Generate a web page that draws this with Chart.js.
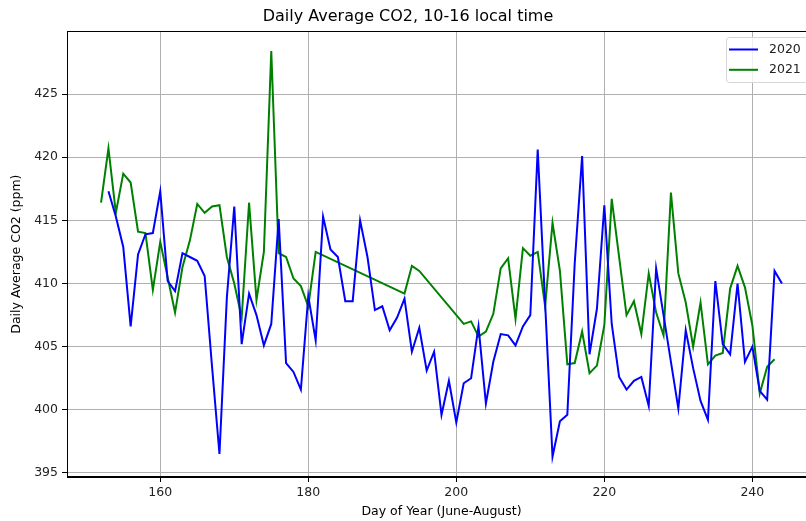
<!DOCTYPE html>
<html>
<head>
<meta charset="utf-8">
<script src="https://cdn.jsdelivr.net/npm/chart.js@4/dist/chart.umd.min.js"></script>
<style>
  html, body { margin: 0; padding: 0; background: #fff; overflow: hidden; }
  #wrap { width: 806px; height: 521px; overflow: hidden; }
  #myChart { display: block; }
</style>
</head>
<body>
<div id="wrap">
<!-- the reference figure is cut off on the right, so the canvas is wider than the window -->
<canvas id="myChart" width="818" height="521"></canvas>
</div>
<script>
// 2020 series (days 212, 228, 229 missing)
const days2020 = [
  153, 154, 155, 156, 157, 158, 159, 160, 161, 162, 163, 164, 165, 166, 167, 168, 169, 170,
  171, 172, 173, 174, 175, 176, 177, 178, 179, 180, 181, 182, 183, 184, 185, 186, 187, 188,
  189, 190, 191, 192, 193, 194, 195, 196, 197, 198, 199, 200, 201, 202, 203, 204, 205, 206,
  207, 208, 209, 210, 211, 213, 214, 215, 216, 217, 218, 219, 220, 221, 222, 223, 224, 225,
  226, 227, 230, 231, 232, 233, 234, 235, 236, 237, 238, 239, 240, 241, 242, 243, 244
];
const co2_2020 = [
  417.3, 415.3, 412.9, 406.6, 412.3, 413.9, 414.0, 417.3, 410.2, 409.4, 412.4, 412.1, 411.8, 410.6, 403.4, 396.5, 408.9, 416.1,
  405.2, 409.2, 407.5, 405.1, 406.8, 415.1, 403.7, 403.0, 401.6, 409.0, 405.5, 415.3, 412.7, 412.1, 408.6, 408.6, 415.0, 412.1,
  407.9, 408.2, 406.3, 407.3, 408.8, 404.6, 406.5, 403.1, 404.6, 399.6, 402.3, 399.0, 402.1, 402.5, 406.6, 400.5, 403.8, 406.0,
  405.9, 405.1, 406.6, 407.5, 420.6, 396.3, 399.1, 399.6, 411.6, 420.1, 404.4, 408.0, 416.2, 406.8, 402.6, 401.6, 402.3, 402.6,
  400.3, 411.2, 400.1, 406.3, 403.3, 400.7, 399.2, 410.2, 405.2, 404.4, 410.0, 403.8, 405.0, 401.5, 400.8, 411.0, 410.0
];

// 2021 series (gaps 182-192 and 196-200)
const days2021 = [
  152, 153, 154, 155, 156, 157, 158, 159, 160, 161, 162, 163, 164, 165, 166, 167, 168, 169,
  170, 171, 172, 173, 174, 175, 176, 177, 178, 179, 180, 181, 193, 194, 195, 201, 202, 203,
  204, 205, 206, 207, 208, 209, 210, 211, 212, 213, 214, 215, 216, 217, 218, 219, 220, 221,
  222, 223, 224, 225, 226, 227, 228, 229, 230, 231, 232, 233, 234, 235, 236, 237, 238, 239,
  240, 241, 242, 243
];
const co2_2021 = [
  416.4, 420.7, 415.6, 418.7, 418.0, 414.1, 414.0, 409.5, 413.3, 410.5, 407.7, 411.3, 413.4, 416.3, 415.6, 416.1, 416.2, 412.1,
  410.0, 407.3, 416.4, 408.7, 412.5, 428.4, 412.4, 412.1, 410.4, 409.8, 408.2, 412.5, 409.2, 411.4, 411.0, 406.8, 407.0, 405.8,
  406.2, 407.6, 411.2, 412.0, 407.2, 412.8, 412.2, 412.5, 408.2, 414.8, 411.0, 403.6, 403.7, 406.2, 402.9, 403.5, 406.7, 416.7,
  412.1, 407.5, 408.6, 406.0, 410.8, 407.7, 405.9, 417.2, 410.8, 408.5, 405.0, 408.5, 403.6, 404.3, 404.5, 409.6, 411.4, 409.7,
  406.7, 401.3, 403.4, 404.0
];

const xTicks = [160, 180, 200, 220, 240];
const yTicks = [395, 400, 405, 410, 415, 420, 425];

const seriesNames = ['2020', '2021'];
const seriesColors = ['#0000ff', '#008000'];

const toPoints = (xs, ys) => xs.map((x, i) => ({x: x, y: ys[i]}));

const FONT = "'DejaVu Sans', sans-serif";

// four-sided frame plus matplotlib style legend inside the axes
const framePlugin = {
  id: 'frame',
  afterDraw(chart) {
    const {ctx, chartArea: a} = chart;
    ctx.save();
    ctx.strokeStyle = '#000';
    ctx.lineWidth = 1;
    ctx.strokeRect(Math.round(a.left) + 0.5, Math.round(a.top) + 0.5,
      Math.round(a.right - a.left) - 1, Math.round(a.bottom - a.top) - 1);

    // legend box
    const bx = Math.round(a.right) - 90, by = Math.round(a.top) + 6, bw = 82, bh = 45;
    ctx.beginPath();
    ctx.roundRect(bx + 0.5, by + 0.5, bw, bh, 3);
    ctx.fillStyle = 'rgba(255,255,255,0.8)';
    ctx.fill();
    ctx.strokeStyle = '#d6d6d6';
    ctx.lineWidth = 1;
    ctx.stroke();
    ctx.font = '12.5px ' + FONT;
    ctx.textBaseline = 'middle';
    ctx.textAlign = 'left';
    chart.data.datasets.forEach((ds, i) => {
      const ly = by + 12.5 + i * 20.3;
      ctx.beginPath();
      ctx.moveTo(bx + 3, ly);
      ctx.lineTo(bx + 32, ly);
      ctx.strokeStyle = ds.borderColor;
      ctx.lineWidth = 2;
      ctx.stroke();
      ctx.fillStyle = '#222';
      ctx.fillText(ds.label, bx + 43, ly);
    });
    ctx.restore();
  }
};

const ctx = document.getElementById('myChart').getContext('2d');

const data = {
  datasets: [
    {
      label: seriesNames[0],
      borderColor: seriesColors[0],
      backgroundColor: seriesColors[0],
      borderWidth: 2,
      pointRadius: 0,
      tension: 0,
      data: toPoints(days2020, co2_2020)
    },
    {
      label: seriesNames[1],
      borderColor: seriesColors[1],
      backgroundColor: seriesColors[1],
      borderWidth: 2,
      pointRadius: 0,
      tension: 0,
      data: toPoints(days2021, co2_2021)
    }
  ]
};

const config = {
  type: 'line',
  data: data,
  options: {
    responsive: false,
    animation: false,
    devicePixelRatio: 1,
    layout: {
      padding: {left: 0, right: 2, top: 0, bottom: 0}
    },
    plugins: {
      legend: {display: false},
      tooltip: {enabled: false},
      title: {
        display: true,
        text: 'Daily Average CO2, 10-16 local time',
        color: '#000',
        font: {family: FONT, size: 16, weight: 'normal'},
        padding: {top: 7, bottom: 5}
      }
    },
    scales: {
      x: {
        type: 'linear',
        min: 147.4,
        max: 248.6,
        afterBuildTicks: (scale) => { scale.ticks = xTicks.map(v => ({value: v})); },
        afterFit: (scale) => { scale.height = 44; },
        grid: {color: '#b0b0b0', lineWidth: 1, tickColor: '#000', tickLength: 5},
        border: {color: '#000', width: 1},
        ticks: {color: '#222', font: {family: FONT, size: 12.5}, padding: 3, maxRotation: 0},
        title: {
          display: true,
          text: 'Day of Year (June-August)',
          color: '#000',
          font: {family: FONT, size: 12.5},
          padding: {top: 0, bottom: 2}
        }
      },
      y: {
        min: 394.68,
        max: 429.98,
        afterBuildTicks: (scale) => { scale.ticks = yTicks.map(v => ({value: v})); },
        afterFit: (scale) => { scale.width = 67; },
        grid: {color: '#b0b0b0', lineWidth: 1, tickColor: '#000', tickLength: 5},
        border: {color: '#000', width: 1},
        ticks: {color: '#222', font: {family: FONT, size: 12.5}, padding: 4},
        title: {
          display: true,
          text: 'Daily Average CO2 (ppm)',
          color: '#000',
          font: {family: FONT, size: 12.5},
          padding: {top: 9, bottom: 0}
        }
      }
    }
  },
  plugins: [framePlugin]
};

const myChart = new Chart(ctx, config);
</script>
</body>
</html>
